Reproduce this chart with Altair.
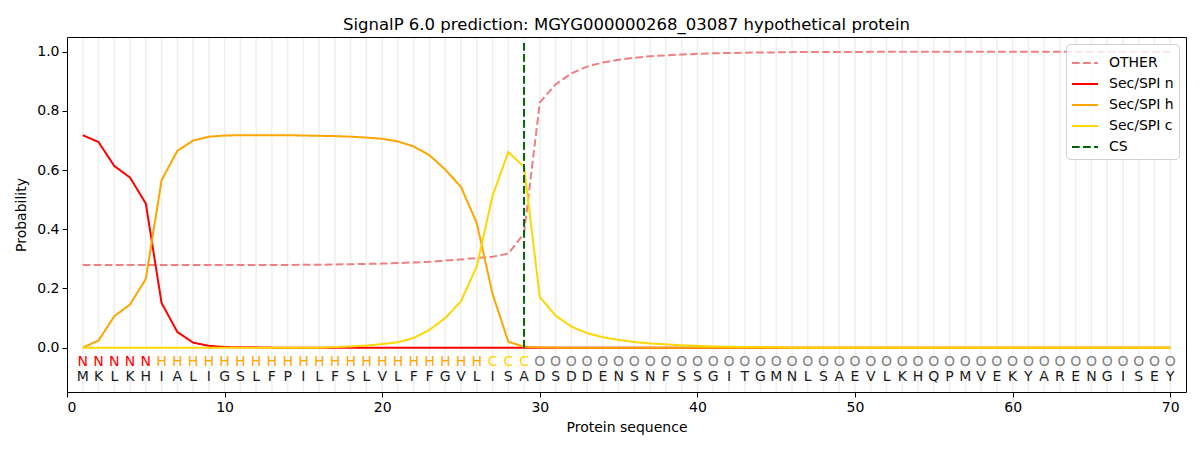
import altair as alt
import pandas as pd

sequence = "MKLKHIALIGSLFPILFSLVLFFGVLISADSDDENSNFSSGITGMNLSAEVLKHQPMVEKYARENGISEY"
labels = "NNNNN" + "H" * 21 + "CCC" + "O" * 41
positions = list(range(1, 71))

other = [0.279] * 14 + [0.280, 0.280, 0.281, 0.282, 0.283, 0.284, 0.286, 0.288,
         0.290, 0.294, 0.298, 0.303, 0.307, 0.318, 0.386, 0.829, 0.890, 0.927,
         0.950, 0.964, 0.973, 0.980, 0.985, 0.988, 0.991, 0.993, 0.995, 0.996,
         0.997, 0.998, 0.998] + [0.999] * 5 + [1.0] * 20
sp_n = [0.718, 0.695, 0.614, 0.575, 0.487, 0.151, 0.053, 0.017, 0.006, 0.002,
        0.001, 0.001] + [0.0] * 58
sp_h = [0.0, 0.024, 0.106, 0.146, 0.232, 0.566, 0.665, 0.700, 0.713, 0.717,
        0.718, 0.718, 0.718, 0.718, 0.717, 0.716, 0.715, 0.713, 0.710, 0.706,
        0.697, 0.680, 0.650, 0.602, 0.543, 0.421, 0.182, 0.020, 0.003, 0.001] + [0.0] * 40
sp_c = [0.0] * 16 + [0.002, 0.004, 0.007, 0.012, 0.018, 0.033, 0.060, 0.100,
        0.157, 0.275, 0.513, 0.661, 0.611, 0.171, 0.108, 0.071, 0.049, 0.035,
        0.026, 0.019, 0.014, 0.011, 0.008, 0.006, 0.004, 0.003, 0.002, 0.002,
        0.001] + [0.0] * 25

cs_pos = 29
cs_span = [0.0, 1.04]
label_row_y = -0.05
residue_row_y = -0.10

series_names = ["OTHER", "Sec/SPI n", "Sec/SPI h", "Sec/SPI c", "CS"]
series_colors = ["#f08080", "#ff0000", "#ffa500", "#ffd700", "#006400"]
dash = [7.7, 3.3]
series_dash = [dash, [1, 0], [1, 0], [1, 0], dash]

label_kinds = ["N", "H", "C", "O"]
label_colors = ["#ff0000", "#ffa500", "#ffd700", "#808080"]

rows = []
for name, vals in zip(series_names[:4], [other, sp_n, sp_h, sp_c]):
    for p, v in zip(positions, vals):
        rows.append({"pos": p, "prob": v, "series": name})
lines_df = pd.DataFrame(rows)

cs_df = pd.DataFrame({"pos": [cs_pos], "y0": [cs_span[0]], "y1": [cs_span[1]], "series": ["CS"]})

text_df = pd.DataFrame({
    "pos": positions,
    "res": list(sequence),
    "lab": list(labels),
    "ry": [residue_row_y] * 70,
    "ly": [label_row_y] * 70,
})

xscale = alt.Scale(domain=[0, 71], nice=False, zero=False)
yscale = alt.Scale(domain=[-0.15, 1.05], nice=False, zero=False)

color = alt.Color("series:N", title=None,
                  scale=alt.Scale(domain=series_names, range=series_colors),
                  legend=alt.Legend(orient="top-right"))
dashenc = alt.StrokeDash("series:N", title=None,
                         scale=alt.Scale(domain=series_names, range=series_dash))

xaxis = alt.Axis(values=list(range(0, 71, 10)), title="Protein sequence", grid=False,
                 tickSize=5, labelPadding=3, titlePadding=6, zindex=1)
yaxis = alt.Axis(values=[0, 0.2, 0.4, 0.6, 0.8, 1.0], format=".1f", title="Probability",
                 grid=False, tickSize=5, labelPadding=3, titlePadding=8, zindex=1)
top_axis = alt.Axis(orient="top", labels=False, ticks=False, title=None, grid=False,
                    domain=True, zindex=1)
right_axis = alt.Axis(orient="right", labels=False, ticks=False, title=None, grid=False,
                      domain=True, zindex=1)

grid = alt.Chart(text_df).mark_rule(color="#efefef", strokeWidth=1.5).encode(
    x=alt.X("pos:Q", scale=xscale, axis=top_axis)
)

lines = alt.Chart(lines_df).mark_line(strokeWidth=2).encode(
    x=alt.X("pos:Q", scale=xscale, axis=xaxis),
    y=alt.Y("prob:Q", scale=yscale, axis=yaxis),
    color=color,
    strokeDash=dashenc,
)

cs = alt.Chart(cs_df).mark_rule(strokeWidth=2).encode(
    x=alt.X("pos:Q", scale=xscale, axis=None),
    y=alt.Y("y0:Q", scale=yscale, axis=right_axis),
    y2="y1:Q",
    color=color,
    strokeDash=dashenc,
)

residues = alt.Chart(text_df).mark_text(fontSize=14, font="DejaVu Sans", color="#1a1a1a",
                                         baseline="middle").encode(
    x=alt.X("pos:Q", scale=xscale, axis=None),
    y=alt.Y("ry:Q", scale=yscale, axis=None),
    text="res:N",
)

label_layers = []
for kind, col in zip(label_kinds, label_colors):
    label_layers.append(
        alt.Chart(text_df).transform_filter(alt.datum.lab == kind)
        .mark_text(fontSize=14, font="DejaVu Sans", color=col, baseline="middle")
        .encode(
            x=alt.X("pos:Q", scale=xscale, axis=None),
            y=alt.Y("ly:Q", scale=yscale, axis=None),
            text="lab:N",
        )
    )

chart = alt.layer(grid, lines, cs, residues, *label_layers).resolve_axis(
    x="independent", y="independent"
).properties(
    width=1119,
    height=355,
    title=alt.TitleParams("SignalP 6.0 prediction: MGYG000000268_03087 hypothetical protein",
                          fontSize=16.5, font="DejaVu Sans", fontWeight="normal",
                          color="black", offset=3),
    autosize=alt.AutoSizeParams(type="none"),
    padding={"left": 59, "top": 29, "right": 6, "bottom": 58},
).configure_view(
    strokeWidth=0
).configure_axis(
    labelFont="DejaVu Sans", titleFont="DejaVu Sans", labelFontSize=14, titleFontSize=14,
    labelColor="black", titleColor="black", tickColor="black", domainColor="black",
    titleFontWeight="normal"
).configure_legend(
    labelFont="DejaVu Sans", labelFontSize=14, labelColor="black",
    symbolType="stroke", symbolSize=676, symbolStrokeWidth=2,
    strokeColor="#d0d0d0", cornerRadius=4, fillColor="rgba(255,255,255,0.8)",
    padding=5, offset=7, rowPadding=-3, labelOffset=10
)

chart.save("out.html", embed_options={"renderer": "svg", "actions": False})
